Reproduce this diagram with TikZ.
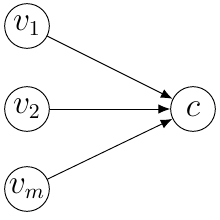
\documentclass[tikz,border=0pt]{standalone}
\usetikzlibrary{arrows.meta}
\begin{document}
\begin{tikzpicture}[x=0.015cm,y=-0.015cm,
  vert/.style={draw,circle,minimum size=0.67cm,inner sep=0pt,font=\fontsize{13.5}{16}\selectfont},
  edge/.style={-{Latex[length=5pt,width=4pt]},line width=0.4pt}]
\useasboundingbox (0,0) rectangle (220,220);
\node[vert] (v1) at (27,26) {$v_1$};
\node[vert] (v2) at (27,109) {$v_2$};
\node[vert] (vm) at (27,189) {$v_m$};
\node[vert] (c) at (193,109) {$c$};
\draw[edge] (v1) -- (c);
\draw[edge] (v2) -- (c);
\draw[edge] (vm) -- (c);
\end{tikzpicture}
\end{document}
